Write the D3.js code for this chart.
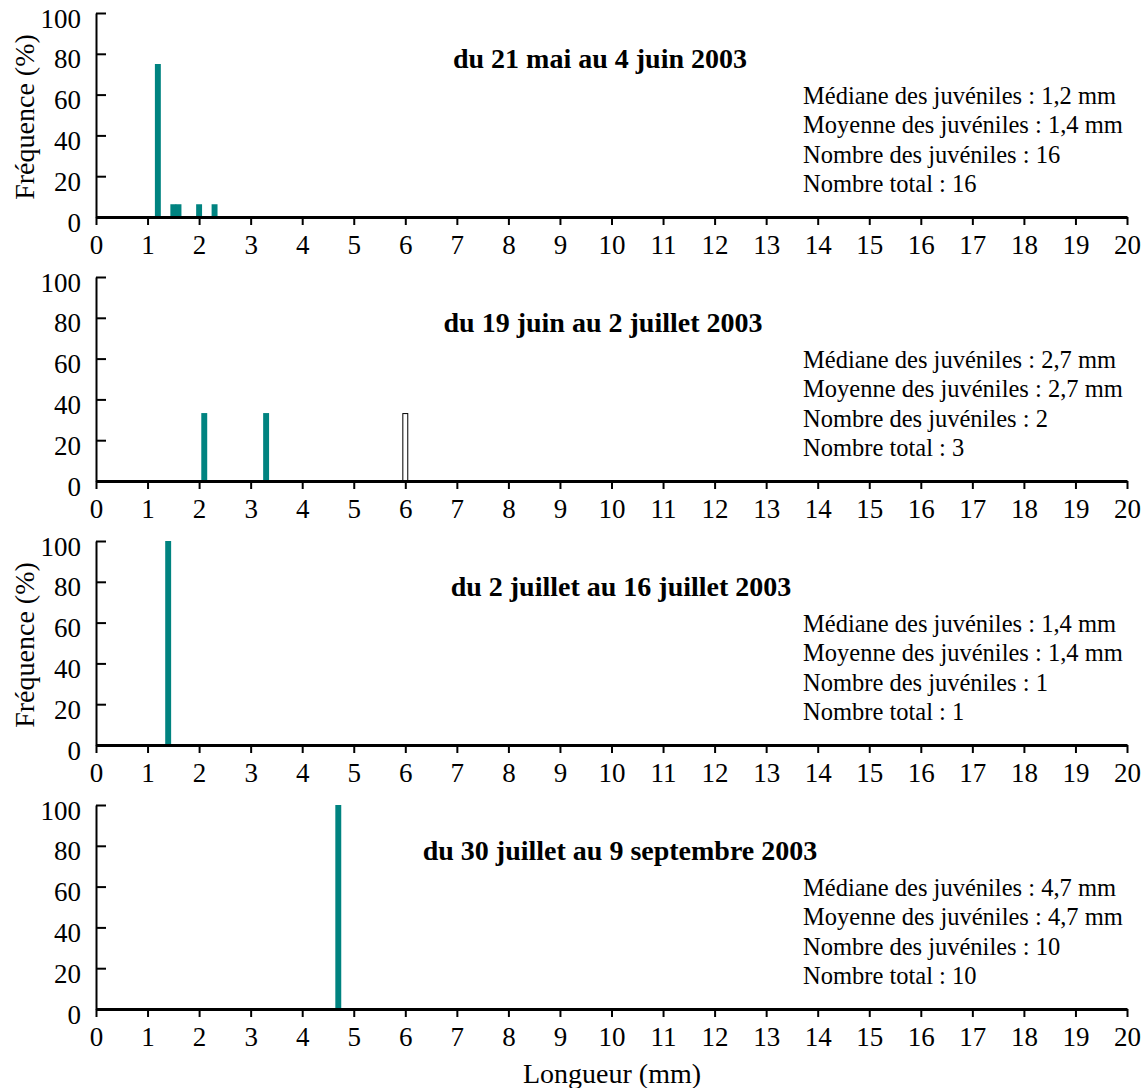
<!DOCTYPE html>
<html>
<head>
<meta charset="utf-8">
<script src="https://cdn.jsdelivr.net/npm/d3@7"></script>
<style>
  body { margin: 0; background: #fff; }
  svg { display: block; }
  .axis text { font-family: "Liberation Serif", "Times New Roman", serif; font-size: 27px; fill: #000; }
  .label { font-family: "Liberation Serif", "Times New Roman", serif; font-size: 28px; fill: #000; }
  .title { font-family: "Liberation Serif", "Times New Roman", serif; font-size: 28px; font-weight: bold; fill: #000; }
  .info { font-family: "Liberation Serif", "Times New Roman", serif; font-size: 24.5px; fill: #000; }
</style>
</head>
<body>
<svg id="chart"></svg>
<script>
// periods (one panel each)
const periods = [
  "du 21 mai au 4 juin 2003",
  "du 19 juin au 2 juillet 2003",
  "du 2 juillet au 16 juillet 2003",
  "du 30 juillet au 9 septembre 2003"
];

// juveniles: length class (mm) and frequency (%)
const juvLengths = [[1.2, 1.5, 1.6, 2.0, 2.3], [2.1, 3.3], [1.4], [4.7]];
const juvFreq = [[75, 6.25, 6.25, 6.25, 6.25], [33.3, 33.3], [100], [100]];

// other (non juvenile) individuals
const otherLengths = [[], [6.0], [], []];
const otherFreq = [[], [33.3], [], []];

// text shown on the right of each panel
const medians = ["1,2", "2,7", "1,4", "4,7"];
const means = ["1,4", "2,7", "1,4", "4,7"];
const nJuv = [16, 2, 1, 10];
const nTotal = [16, 3, 1, 10];

const xTicks = d3.range(0, 21);
const yTicks = [0, 20, 40, 60, 80, 100];

const w = 1147, h = 1088;
const margins = { left: 96, right: 20, top: 13 };
const panelStep = 264, panelHeight = 204;
const titleX = [600, 603, 621, 620];
const BAR_W = 0.115; // mm

const svg = d3.select('#chart').attr('width', w).attr('height', h);

const xScale = d3.scaleLinear().domain([0, 20]).range([margins.left, w - margins.right]);

periods.forEach((p, i) => {
  const top = margins.top + i * panelStep;
  const yScale = d3.scaleLinear().domain([0, 100]).range([top + panelHeight, top]);
  const g = svg.append('g');

  // bars, juveniles
  g.selectAll('rect.juv')
    .data(juvLengths[i].map((d, k) => ({ len: d, f: juvFreq[i][k] })))
    .join('rect')
    .attr('class', 'juv')
    .attr('x', d => xScale(d.len - BAR_W / 2))
    .attr('width', xScale(BAR_W) - xScale(0))
    .attr('y', d => yScale(d.f))
    .attr('height', d => yScale(0) - yScale(d.f))
    .style('fill', '#008380');

  // bars, others (outlined)
  g.selectAll('rect.other')
    .data(otherLengths[i].map((d, k) => ({ len: d, f: otherFreq[i][k] })))
    .join('rect')
    .attr('class', 'other')
    .attr('x', d => xScale(d.len - BAR_W / 2) + 0.5)
    .attr('width', xScale(BAR_W) - xScale(0) - 1)
    .attr('y', d => yScale(d.f) + 0.5)
    .attr('height', d => yScale(0) - yScale(d.f))
    .style('fill', '#fff')
    .style('stroke', '#000')
    .style('stroke-width', 1);

  // Y AXIS
  const yAxis = g.append('g')
    .attr('class', 'axis')
    .attr('transform', `translate(${xScale(0)}, 0)`)
    .call(d3.axisLeft(yScale).tickValues(yTicks).tickSize(-10).tickSizeOuter(0).tickPadding(15));
  yAxis.attr('font-size', null).attr('font-family', null);
  yAxis.select('.domain').attr('stroke-width', 2);
  yAxis.selectAll('.tick line').attr('stroke-width', 2);
  yAxis.selectAll('.tick text').attr('dy', '0.52em');

  // X AXIS
  const xAxis = g.append('g')
    .attr('class', 'axis')
    .attr('transform', `translate(0, ${yScale(0)})`)
    .call(d3.axisBottom(xScale).tickValues(xTicks).tickSize(8).tickSizeOuter(0).tickPadding(10));
  xAxis.attr('font-size', null).attr('font-family', null);
  xAxis.select('.domain').attr('stroke-width', 3);
  xAxis.selectAll('.tick line').attr('stroke-width', 2);

  // title
  g.append('text')
    .attr('class', 'title')
    .attr('x', titleX[i])
    .attr('y', top + 55)
    .attr('text-anchor', 'middle')
    .text(p);

  // info block
  const lines = [
    `Médiane des juvéniles : ${medians[i]} mm`,
    `Moyenne des juvéniles : ${means[i]} mm`,
    `Nombre des juvéniles : ${nJuv[i]}`,
    `Nombre total : ${nTotal[i]}`
  ];
  g.selectAll('text.info')
    .data(lines)
    .join('text')
    .attr('class', 'info')
    .attr('x', 803)
    .attr('y', (d, k) => top + 91 + k * 29.3)
    .text(d => d);

  // Y AXIS LABEL (panels 1 and 3)
  if (i % 2 === 0) {
    g.append('text')
      .attr('class', 'label')
      .attr('transform', `translate(${34}, ${top + panelHeight / 2 + 2}) rotate(-90)`)
      .attr('text-anchor', 'middle')
      .text('Fréquence (%)');
  }
});

// X AXIS LABEL
svg.append('text')
  .attr('class', 'label')
  .attr('x', 612)
  .attr('y', 1083)
  .attr('text-anchor', 'middle')
  .text('Longueur (mm)');
</script>
</body>
</html>
